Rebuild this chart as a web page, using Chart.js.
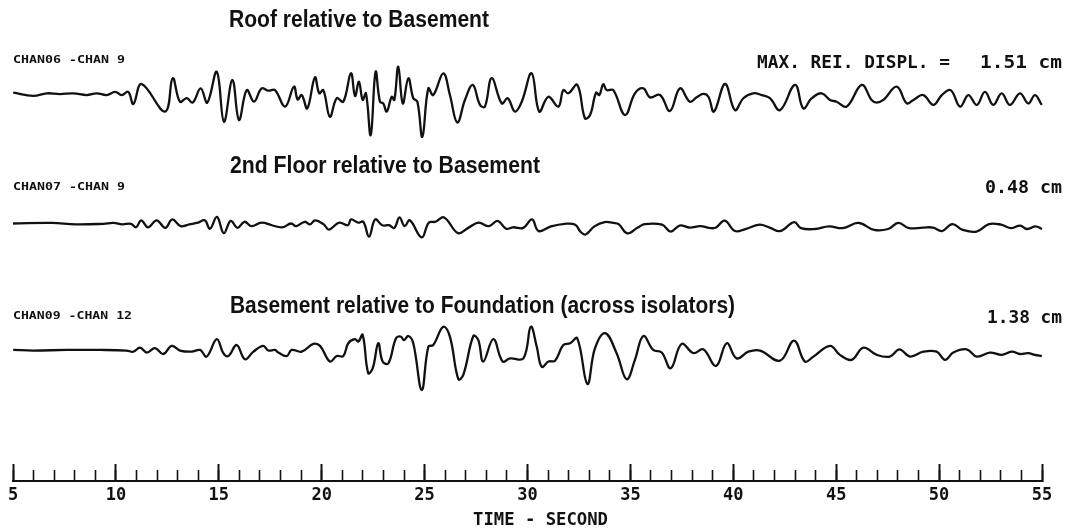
<!DOCTYPE html>
<html>
<head>
<meta charset="utf-8">
<script src="https://cdn.jsdelivr.net/npm/chart.js@4.4.0/dist/chart.umd.min.js"></script>
<style>
  html, body { margin: 0; padding: 0; background: #fff; }
</style>
</head>
<body>
<canvas id="chart" width="1075" height="529"></canvas>
<script>
// time (s) and relative displacement (cm)
const roofT = [5.01,5.99,6.64,7.28,7.93,8.58,9.07,9.55,9.96,10.28,10.60,10.85,11.25,12.39,12.76,13.11,13.44,13.73,14.12,14.44,
  14.90,15.25,15.66,15.98,16.36,16.71,17.08,17.41,17.73,18.22,18.65,18.83,19.03,19.30,19.67,19.88,20.08,20.40,20.73,21.05,
  21.42,21.62,21.81,21.99,22.15,22.38,22.62,22.83,22.99,23.16,23.40,23.53,23.72,23.94,24.21,24.45,24.65,24.89,25.18,25.42,
  25.91,26.23,26.59,26.96,27.34,27.69,27.93,28.26,28.75,29.04,29.39,29.72,30.20,30.57,31.01,31.50,31.74,31.98,32.42,32.79,
  33.04,33.33,33.49,33.68,33.85,34.17,34.74,35.22,35.63,35.95,36.44,36.92,37.41,37.89,38.22,38.54,38.79,39.06,39.60,40.08,
  40.49,40.97,41.38,41.78,42.27,43.00,43.40,43.81,44.29,44.70,45.02,45.51,46.24,46.72,46.97,47.29,47.94,48.43,48.75,49.23,
  49.72,50.13,50.56,51.02,51.42,51.83,52.23,52.63,53.04,53.44,53.93,54.33,54.66,54.99];
const roofD = [0.01,-0.10,-0.01,-0.04,-0.01,-0.07,-0.01,-0.07,0.04,-0.07,0.04,-0.38,0.31,-0.64,0.51,-0.30,-0.18,-0.33,0.16,-0.33,
  0.73,-0.99,0.45,-0.93,0.10,-0.30,0.16,0.08,0.10,-0.47,0.22,-0.22,-0.07,-0.53,0.54,-0.01,0.10,-0.82,-0.18,-0.30,
  0.68,-0.10,0.39,-0.24,-0.01,-1.45,0.73,-0.30,-0.36,-0.64,-0.13,-0.24,0.91,-0.36,0.51,-0.18,-0.30,-1.51,0.16,-0.07,
  0.68,-0.07,-1.02,-0.24,0.28,-0.41,-0.47,0.51,-0.36,-0.18,-0.64,-0.30,0.68,-0.64,-0.13,-0.47,0.10,-0.01,0.28,-0.87,
  -0.76,0.01,-0.07,0.30,0.10,0.10,-0.76,-0.01,0.16,-0.15,-0.07,-0.62,0.16,-0.30,-0.15,-0.03,-0.13,-0.64,0.31,-0.59,
  -0.18,-0.01,-0.07,-0.18,-0.59,0.28,-0.53,-0.18,-0.01,-0.24,-0.30,-0.47,0.28,-0.24,-0.33,-0.24,0.22,-0.36,-0.24,-0.07,
  -0.41,-0.07,0.10,-0.47,-0.07,-0.41,0.04,-0.41,-0.01,-0.41,-0.01,-0.36,-0.07,-0.41];

const floorT = [5.00,6.88,8.05,9.39,9.89,10.31,10.73,10.98,11.23,11.56,11.98,12.40,12.74,13.15,13.57,13.99,14.32,14.57,14.91,15.24,
  15.58,15.91,16.25,16.58,17.08,17.58,18.09,18.51,18.76,19.18,19.43,19.68,20.10,20.35,20.85,21.27,21.43,21.77,22.02,22.30,
  22.60,22.94,23.27,23.53,23.78,24.03,24.28,24.86,25.20,25.53,25.95,26.62,27.12,27.62,28.13,28.55,28.96,29.30,29.80,30.22,
  30.54,31.14,31.81,32.32,32.57,32.82,33.25,33.75,34.17,34.43,34.85,35.36,35.69,36.54,36.96,37.39,37.89,38.40,38.90,39.16,
  39.58,40.09,40.59,41.27,41.77,42.28,42.96,43.29,43.97,44.65,45.32,46.08,46.84,47.52,48.02,48.53,49.21,49.71,50.14,50.64,
  51.15,51.82,52.42,53.01,53.51,53.94,54.27,54.69,55.00];
const floorD = [0.00,0.02,-0.03,-0.01,0.02,-0.03,-0.01,-0.13,0.11,-0.13,0.11,-0.15,0.14,-0.09,-0.03,0.03,0.11,-0.18,0.23,-0.33,
  0.09,-0.15,0.06,-0.09,0.03,-0.06,-0.13,0.00,-0.09,0.06,-0.03,0.11,-0.03,-0.21,0.03,-0.06,0.14,0.03,0.06,-0.45,
  0.14,-0.06,-0.06,-0.15,0.21,-0.09,0.11,-0.48,0.03,0.06,0.21,-0.33,-0.15,0.03,-0.09,0.09,-0.18,-0.13,-0.15,0.14,
  -0.26,-0.10,-0.01,-0.04,-0.28,-0.38,-0.10,0.05,0.02,-0.02,-0.34,-0.14,-0.02,-0.04,-0.28,-0.07,-0.14,-0.09,-0.16,-0.14,
  0.10,-0.26,-0.19,-0.04,-0.14,-0.26,0.05,-0.16,-0.19,-0.10,-0.16,0.02,-0.22,-0.19,0.02,-0.16,-0.14,-0.14,-0.26,-0.02,
  -0.22,-0.28,-0.02,-0.04,-0.16,-0.07,-0.19,-0.10,-0.19];

const baseT = [5.01,5.99,7.61,9.23,10.52,10.85,11.17,11.50,11.90,12.30,12.71,13.11,13.68,14.09,14.41,14.90,15.22,15.46,15.87,16.27,
  16.68,17.16,17.41,17.73,17.89,18.30,18.54,19.03,19.59,19.92,20.40,20.73,21.05,21.29,21.62,21.78,21.99,22.26,22.48,22.75,
  22.96,23.24,23.61,23.84,24.00,24.21,24.45,24.86,25.18,25.42,25.91,26.23,26.64,26.88,27.37,27.61,27.85,28.34,28.79,29.15,
  29.80,30.16,30.45,30.69,31.02,31.34,31.74,32.07,32.42,32.91,33.28,33.77,34.33,34.82,35.22,35.63,36.11,36.52,36.96,37.49,
  38.06,38.54,39.16,39.68,40.16,40.73,41.30,42.27,42.95,43.48,43.89,44.70,45.18,45.75,46.32,46.97,47.61,48.07,48.59,49.23,
  49.88,50.29,50.69,51.34,51.83,52.47,53.04,53.53,53.93,54.33,54.66,54.99];
const baseD = [0.00,-0.02,0.00,0.00,-0.02,-0.06,0.08,-0.09,0.06,-0.14,0.14,-0.02,-0.06,0.00,-0.23,0.37,-0.11,-0.21,0.17,-0.32,
  -0.06,0.14,-0.02,0.00,-0.09,-0.21,0.00,-0.06,0.21,0.14,-0.40,-0.21,-0.21,0.23,0.37,0.29,0.52,-0.80,-0.63,0.23,
  -0.40,-0.46,0.40,0.46,0.34,0.48,0.23,-1.38,0.11,0.17,0.80,0.46,-1.01,-0.86,0.48,0.34,-0.40,0.37,-0.40,-0.29,
  -0.29,0.80,0.11,-0.58,-0.40,-0.37,0.17,0.23,0.40,-1.17,0.06,0.58,-0.11,-1.01,-0.34,0.48,0.00,-0.09,-0.63,0.21,
  -0.11,0.02,-0.55,0.23,-0.29,-0.06,-0.02,-0.37,0.32,-0.40,-0.23,0.14,-0.17,-0.34,0.08,-0.17,-0.23,0.02,-0.23,-0.06,
  -0.06,-0.34,-0.09,0.02,-0.23,-0.09,-0.17,-0.06,-0.14,-0.11,-0.17,-0.21];

const traceTitles = ['Roof relative to Basement', '2nd Floor relative to Basement', 'Basement relative to Foundation (across isolators)'];
const chanLabels = ['CHAN06 -CHAN 9', 'CHAN07 -CHAN 9', 'CHAN09 -CHAN 12'];
const maxDispl = ['1.51 cm', '0.48 cm', '1.38 cm'];
const timeTicks = [5, 10, 15, 20, 25, 30, 35, 40, 45, 50, 55];

// vertical layout in cm on the shared y scale
const offsets = [0, -4.5, -8.86];
const axisLevel = -13.38;

function series(t, d, off) {
  return t.map((v, i) => ({ x: v, y: d[i] + off }));
}

function fitText(ctx, text, x, y, width, font) {
  ctx.font = font;
  const w = ctx.measureText(text).width;
  ctx.save();
  ctx.translate(x, y);
  ctx.scale(width / w, 1);
  ctx.textAlign = 'left';
  ctx.textBaseline = 'alphabetic';
  ctx.fillText(text, 0, 0);
  ctx.restore();
}

const textPlugin = {
  id: 'recordText',
  afterDraw(chart) {
    const ctx = chart.ctx;
    ctx.fillStyle = '#111';
    const titleFont = 'bold 23px "Liberation Sans"';
    fitText(ctx, traceTitles[0], 229, 27, 260, titleFont);
    fitText(ctx, traceTitles[1], 230, 173, 310, titleFont);
    fitText(ctx, traceTitles[2], 230, 313, 505, titleFont);

    const chanFont = 'bold 11px "DejaVu Sans Mono"';
    fitText(ctx, chanLabels[0], 13, 63, 112, chanFont);
    fitText(ctx, chanLabels[1], 13, 190, 112, chanFont);
    fitText(ctx, chanLabels[2], 13, 319, 119, chanFont);

    const plotFont = 'bold 17px "DejaVu Sans Mono"';
    fitText(ctx, 'MAX. REI. DISPL. =', 757, 68, 193, plotFont);
    fitText(ctx, maxDispl[0], 980, 68, 82, plotFont);
    fitText(ctx, maxDispl[1], 985, 193, 77, plotFont);
    fitText(ctx, maxDispl[2], 987, 323, 75, plotFont);

    fitText(ctx, 'TIME - SECOND', 473, 525, 135, 'bold 17px "DejaVu Sans Mono"');
  }
};

const lineStyle = {
  borderColor: '#111',
  borderWidth: 2.3,
  pointRadius: 0,
  tension: 0.4,
  fill: false,
  clip: 4
};

function noEdgePadding(scale) {
  scale.paddingLeft = 0;
  scale.paddingRight = 0;
}

new Chart(document.getElementById('chart'), {
  type: 'line',
  data: {
    datasets: [
      { label: traceTitles[0], data: series(roofT, roofD, offsets[0]), ...lineStyle },
      { label: traceTitles[1], data: series(floorT, floorD, offsets[1]), ...lineStyle },
      { label: traceTitles[2], data: series(baseT, baseD, offsets[2]), ...lineStyle }
    ]
  },
  options: {
    responsive: false,
    animation: false,
    devicePixelRatio: 1,
    layout: { padding: { left: 13, right: 33, top: 0, bottom: 0 } },
    plugins: { legend: { display: false }, tooltip: { enabled: false } },
    scales: {
      y: { type: 'linear', display: false, min: -15.034, max: 3.207 },
      x: {
        type: 'linear', min: 5, max: 55,
        position: { y: axisLevel },
        afterFit: noEdgePadding,
        ticks: { stepSize: 1, display: false },
        grid: { drawOnChartArea: false, drawTicks: true, tickLength: -12, tickColor: '#111', tickWidth: 1.6 },
        border: { display: true, color: '#111', width: 2 }
      },
      x2: {
        type: 'linear', min: 5, max: 55,
        position: { y: axisLevel },
        afterFit: noEdgePadding,
        afterBuildTicks(scale) { scale.ticks = timeTicks.map(v => ({ value: v })); },
        ticks: { autoSkip: false, maxRotation: 0, padding: 22, color: '#111',
          font: { family: 'DejaVu Sans Mono', size: 17, weight: 'bold' } },
        grid: { drawOnChartArea: false, drawTicks: true, tickLength: -18, tickColor: '#111', tickWidth: 2 },
        border: { display: true, color: '#111', width: 2 }
      }
    }
  },
  plugins: [textPlugin]
});
</script>
</body>
</html>
